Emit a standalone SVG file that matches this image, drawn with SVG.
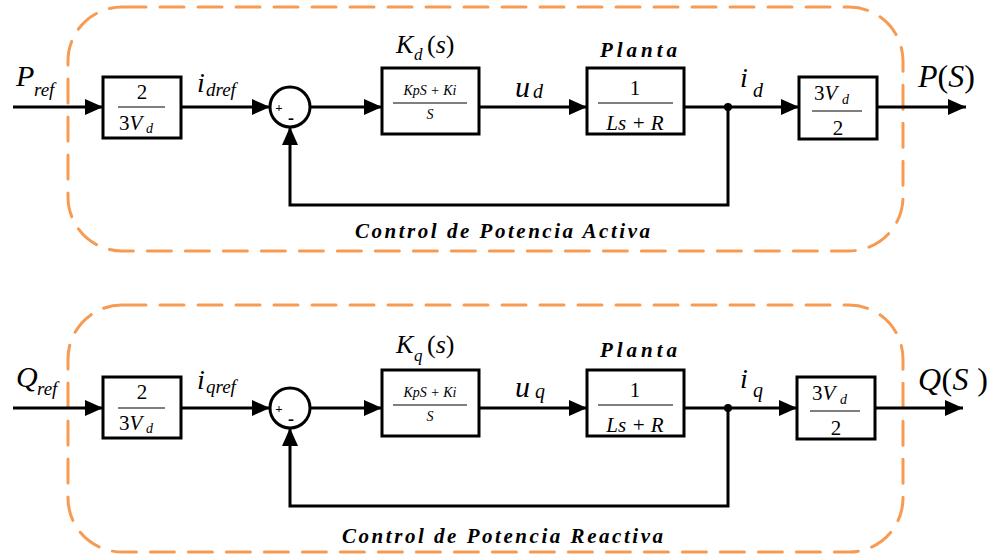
<svg xmlns="http://www.w3.org/2000/svg" width="990" height="556" viewBox="0 0 990 556">
<defs>
<marker id="arr" viewBox="0 0 18 16" refX="18" refY="8" markerWidth="18" markerHeight="16" markerUnits="userSpaceOnUse" orient="auto">
<path d="M0,0 L18,8 L0,16 z" fill="#000"/>
</marker>
</defs>

<g fill="none" stroke="#F79B53" stroke-width="3" stroke-dasharray="24 14" stroke-linecap="round">
<g id="frame-active"><rect x="68" y="7" width="835" height="244" rx="54" ry="54"/></g>
<g id="frame-reactive"><rect x="68" y="305" width="835" height="247" rx="54" ry="54"/></g>
</g>

<g id="connectors" fill="none" stroke="#000" stroke-width="3">
<g marker-end="url(#arr)">
<line x1="13" y1="107" x2="103" y2="107"/>
<line x1="181" y1="107" x2="270" y2="107"/>
<line x1="310" y1="107" x2="382" y2="107"/>
<line x1="479" y1="107" x2="587" y2="107"/>
<line x1="684" y1="107" x2="799" y2="107"/>
<line x1="877" y1="107" x2="966" y2="107"/>
<path d="M728,107 V205 H290 V127"/>
<line x1="13" y1="408" x2="103" y2="408"/>
<line x1="181" y1="408" x2="270" y2="408"/>
<line x1="310" y1="408" x2="382" y2="408"/>
<line x1="479" y1="408" x2="587" y2="408"/>
<line x1="684" y1="408" x2="797" y2="408"/>
<line x1="875" y1="408" x2="963" y2="408"/>
<path d="M728,408 V506 H290 V428"/>
</g>
<circle cx="728" cy="107" r="4" fill="#000" stroke="none"/>
<circle cx="728" cy="408" r="4" fill="#000" stroke="none"/>
</g>

<g id="gain-p">
<rect x="103" y="77" width="78" height="61" fill="#fff" stroke="#000" stroke-width="3"/>
<text font-family="Liberation Serif" text-anchor="middle" x="142" y="99" font-size="21">2</text>
<line x1="118" y1="107" x2="165" y2="107" stroke="#555" stroke-width="1.5"/>
<text font-family="Liberation Serif" x="119" y="130" font-size="21">3<tspan font-style="italic">V</tspan></text>
<text font-family="Liberation Serif" font-style="italic" x="146" y="133" font-size="14">d</text>
</g>
<g id="sum-p">
<circle cx="290" cy="107" r="20" fill="#fff" stroke="#000" stroke-width="3"/>
<text font-family="Liberation Serif" font-weight="bold" text-anchor="middle" x="279" y="112" font-size="13">+</text>
<text font-family="Liberation Serif" font-weight="bold" text-anchor="middle" x="291" y="124" font-size="18">-</text>
</g>
<g id="pi-p">
<rect x="382" y="68" width="97" height="66" fill="#fff" stroke="#000" stroke-width="3"/>
<text font-family="Liberation Serif" font-style="italic" text-anchor="middle" x="430" y="95" font-size="14">KpS + Ki</text>
<line x1="393" y1="103" x2="467" y2="103" stroke="#555" stroke-width="1.5"/>
<text font-family="Liberation Serif" font-style="italic" text-anchor="middle" x="430" y="119" font-size="14">S</text>
</g>
<g id="plant-p">
<rect x="587" y="68" width="97" height="66" fill="#fff" stroke="#000" stroke-width="3"/>
<text font-family="Liberation Serif" text-anchor="middle" x="635" y="95" font-size="21">1</text>
<line x1="598" y1="103" x2="673" y2="103" stroke="#555" stroke-width="1.5"/>
<text font-family="Liberation Serif" font-style="italic" text-anchor="middle" x="635" y="130" font-size="21">Ls + R</text>
</g>
<g id="gain-p-out">
<rect x="799" y="77" width="78" height="62" fill="#fff" stroke="#000" stroke-width="3"/>
<text font-family="Liberation Serif" x="814" y="100" font-size="21">3<tspan font-style="italic">V</tspan></text>
<text font-family="Liberation Serif" font-style="italic" x="842" y="104" font-size="14">d</text>
<line x1="812" y1="111" x2="862" y2="111" stroke="#555" stroke-width="1.5"/>
<text font-family="Liberation Serif" text-anchor="middle" x="838" y="135" font-size="21">2</text>
</g>
<g id="labels-p">
<text font-family="Liberation Serif" font-style="italic" x="16" y="86" font-size="30">P</text>
<text font-family="Liberation Serif" font-style="italic" x="34" y="96" font-size="19">ref</text>
<text font-family="Liberation Serif" font-style="italic" x="197" y="92" font-size="28">i</text>
<text font-family="Liberation Serif" font-style="italic" x="206" y="96" font-size="19">dref</text>
<text font-family="Liberation Serif" font-style="italic" x="396" y="53" font-size="26">K</text>
<text font-family="Liberation Serif" font-style="italic" x="414" y="60" font-size="17">d</text>
<text font-family="Liberation Serif" x="427" y="53" font-size="26">(<tspan font-style="italic">s</tspan>)</text>
<text font-family="Liberation Serif" font-style="italic" x="515" y="97" font-size="30">u</text>
<text font-family="Liberation Serif" font-style="italic" x="533" y="98" font-size="20">d</text>
<text font-family="Liberation Serif" font-weight="bold" font-style="italic" x="600" y="57" font-size="21" textLength="77">Planta</text>
<text font-family="Liberation Serif" font-style="italic" x="740" y="87" font-size="28">i</text>
<text font-family="Liberation Serif" font-style="italic" x="753" y="97" font-size="20">d</text>
<text font-family="Liberation Serif" x="918" y="87" font-size="32"><tspan font-style="italic">P</tspan>(<tspan font-style="italic">S</tspan>)</text>
<text font-family="Liberation Serif" font-weight="bold" font-style="italic" x="355" y="238" font-size="21" textLength="295">Control de Potencia Activa</text>
</g>

<g id="gain-q">
<rect x="103" y="377" width="78" height="61" fill="#fff" stroke="#000" stroke-width="3"/>
<text font-family="Liberation Serif" text-anchor="middle" x="142" y="399" font-size="21">2</text>
<line x1="118" y1="408" x2="165" y2="408" stroke="#555" stroke-width="1.5"/>
<text font-family="Liberation Serif" x="119" y="430" font-size="21">3<tspan font-style="italic">V</tspan></text>
<text font-family="Liberation Serif" font-style="italic" x="146" y="433" font-size="14">d</text>
</g>
<g id="sum-q">
<circle cx="290" cy="408" r="20" fill="#fff" stroke="#000" stroke-width="3"/>
<text font-family="Liberation Serif" font-weight="bold" text-anchor="middle" x="279" y="413" font-size="13">+</text>
<text font-family="Liberation Serif" font-weight="bold" text-anchor="middle" x="291" y="425" font-size="18">-</text>
</g>
<g id="pi-q">
<rect x="382" y="370" width="97" height="66" fill="#fff" stroke="#000" stroke-width="3"/>
<text font-family="Liberation Serif" font-style="italic" text-anchor="middle" x="430" y="397" font-size="14">KpS + Ki</text>
<line x1="393" y1="405" x2="467" y2="405" stroke="#555" stroke-width="1.5"/>
<text font-family="Liberation Serif" font-style="italic" text-anchor="middle" x="430" y="421" font-size="14">S</text>
</g>
<g id="plant-q">
<rect x="587" y="370" width="97" height="66" fill="#fff" stroke="#000" stroke-width="3"/>
<text font-family="Liberation Serif" text-anchor="middle" x="635" y="397" font-size="21">1</text>
<line x1="598" y1="405" x2="673" y2="405" stroke="#555" stroke-width="1.5"/>
<text font-family="Liberation Serif" font-style="italic" text-anchor="middle" x="635" y="432" font-size="21">Ls + R</text>
</g>
<g id="gain-q-out">
<rect x="797" y="377" width="78" height="62" fill="#fff" stroke="#000" stroke-width="3"/>
<text font-family="Liberation Serif" x="812" y="400" font-size="21">3<tspan font-style="italic">V</tspan></text>
<text font-family="Liberation Serif" font-style="italic" x="840" y="404" font-size="14">d</text>
<line x1="810" y1="411" x2="860" y2="411" stroke="#555" stroke-width="1.5"/>
<text font-family="Liberation Serif" text-anchor="middle" x="836" y="435" font-size="21">2</text>
</g>
<g id="labels-q">
<text font-family="Liberation Serif" font-style="italic" x="16" y="387" font-size="30">Q</text>
<text font-family="Liberation Serif" font-style="italic" x="37" y="395" font-size="19">ref</text>
<text font-family="Liberation Serif" font-style="italic" x="197" y="389" font-size="28">i</text>
<text font-family="Liberation Serif" font-style="italic" x="206" y="393" font-size="19">qref</text>
<text font-family="Liberation Serif" font-style="italic" x="396" y="353" font-size="26">K</text>
<text font-family="Liberation Serif" font-style="italic" x="414" y="361" font-size="17">q</text>
<text font-family="Liberation Serif" x="427" y="353" font-size="26">(<tspan font-style="italic">s</tspan>)</text>
<text font-family="Liberation Serif" font-style="italic" x="515" y="397" font-size="30">u</text>
<text font-family="Liberation Serif" font-style="italic" x="535" y="398" font-size="20">q</text>
<text font-family="Liberation Serif" font-weight="bold" font-style="italic" x="600" y="357" font-size="21" textLength="77">Planta</text>
<text font-family="Liberation Serif" font-style="italic" x="740" y="388" font-size="28">i</text>
<text font-family="Liberation Serif" font-style="italic" x="753" y="397" font-size="20">q</text>
<text font-family="Liberation Serif" x="918" y="390" font-size="32" textLength="70"><tspan font-style="italic">Q</tspan>(<tspan font-style="italic">S</tspan> )</text>
<text font-family="Liberation Serif" font-weight="bold" font-style="italic" x="342" y="543" font-size="21" textLength="321">Control de Potencia Reactiva</text>
</g>
</svg>
